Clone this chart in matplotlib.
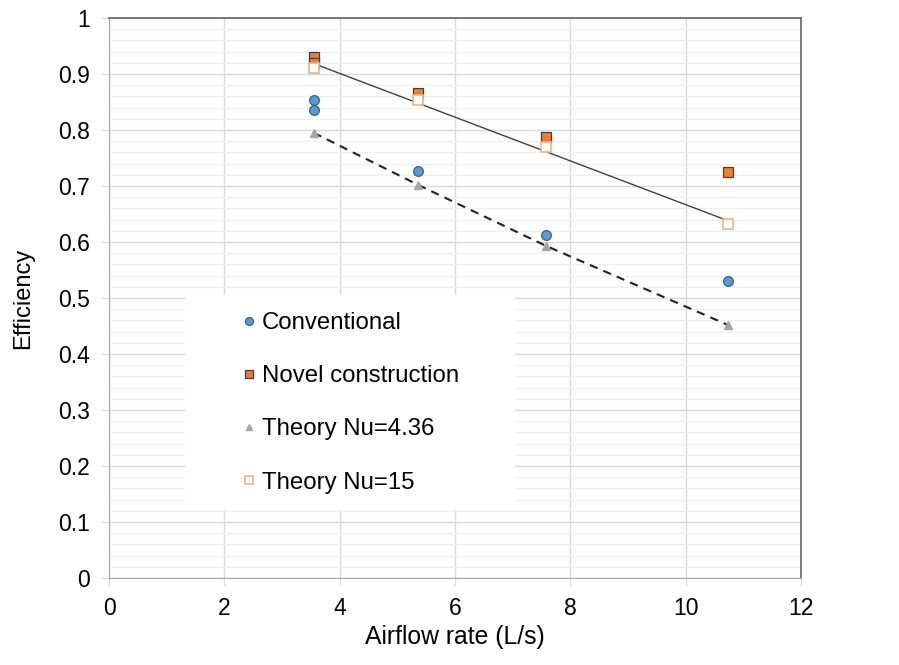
import numpy as np
import matplotlib.pyplot as plt
from matplotlib.ticker import MultipleLocator, FuncFormatter
from matplotlib.patches import Rectangle

plt.rcParams['font.family'] = ['Liberation Sans', 'DejaVu Sans']

# data
conv_x = [3.55, 3.55, 5.36, 7.58, 10.73]
conv_y = [0.853, 0.835, 0.727, 0.613, 0.530]
novel_x = [3.55, 3.55, 5.36, 7.58, 10.73]
novel_y = [0.930, 0.920, 0.866, 0.787, 0.725]
theory_x = [3.55, 5.36, 7.58, 10.73]
nu436_y = [0.795, 0.702, 0.593, 0.452]
nu15_y = [0.911, 0.853, 0.770, 0.632]

W, H = 899, 665
fig = plt.figure(figsize=(W / 100, H / 100), dpi=100)
ax = fig.add_axes([109 / W, 1 - 578 / H, 692 / W, 560 / H])

ax.set_xlim(0, 12)
ax.set_ylim(0, 1)
ax.xaxis.set_major_locator(MultipleLocator(2))
ax.yaxis.set_major_locator(MultipleLocator(0.1))
ax.yaxis.set_minor_locator(MultipleLocator(0.02))
ax.yaxis.set_major_formatter(FuncFormatter(lambda v, p: '{:g}'.format(round(v, 2))))
ax.grid(which='major', color='#d9d9d9', lw=1.0)
ax.yaxis.grid(which='minor', color='#f0f0f0', lw=1.0)
ax.set_axisbelow(True)
ax.tick_params(which='minor', length=0)
ax.tick_params(which='major', length=6, color='#d9d9d9', labelsize=16.5, pad=8)
for s in ['left', 'bottom']:
    ax.spines[s].set_color('#a6a6a6')
for s in ['top', 'right']:
    ax.spines[s].set_color('#6e6e6e')
    ax.spines[s].set_linewidth(1.3)

# trendline for Nu=15, dashed line for Nu=4.36
k, b = np.polyfit(theory_x, nu15_y, 1)
tx = np.array([min(theory_x), max(theory_x)])
ax.plot(tx, k * tx + b, color='#404040', lw=1.0, zorder=2)
ax.plot(theory_x, nu436_y, color='#222222', lw=1.5, ls=(0, (4, 3)), zorder=2)

ax.plot(conv_x, conv_y, 'o', ms=7, mfc='#5b9bd5', mec='#3a5f80', mew=0.9,
        label='Conventional', zorder=3)
ax.plot(novel_x, novel_y, 's', ms=7.5, mfc='#ed7d31', mec='#404040', mew=0.9,
        label='Novel construction', zorder=3)
ax.plot(theory_x, nu436_y, '^', ms=5.5, mfc='#a5a5a5', mec='#a5a5a5',
        label='Theory Nu=4.36', zorder=3)
ax.plot(theory_x, nu15_y, 's', ms=7, mfc='white', mec='#f4b183', mew=1.2,
        label='Theory Nu=15', zorder=3)

ax.set_xlabel('Airflow rate (L/s)', fontsize=17.8)
ax.set_ylabel('Efficiency', fontsize=17)
ax.xaxis.set_label_coords(0.5, (578 - 625) / 560)
ax.yaxis.set_label_coords((34 - 109) / 692, 0.5)

# white legend panel
ax.add_patch(Rectangle((185 / W, 1 - 510 / H), 330 / W, 215 / H,
                       transform=fig.transFigure, facecolor='white',
                       edgecolor='none', zorder=1.5, clip_on=False))

leg = ax.legend(loc='upper left', bbox_to_anchor=(243 / W, 1 - 312 / H),
                bbox_transform=fig.transFigure, frameon=False,
                fontsize=17.3, handlelength=0.5, handletextpad=0.3, labelspacing=1.3,
                borderpad=0, borderaxespad=0, markerscale=0.82)
leg.set_zorder(5)

fig.savefig('out.png', dpi=100)
